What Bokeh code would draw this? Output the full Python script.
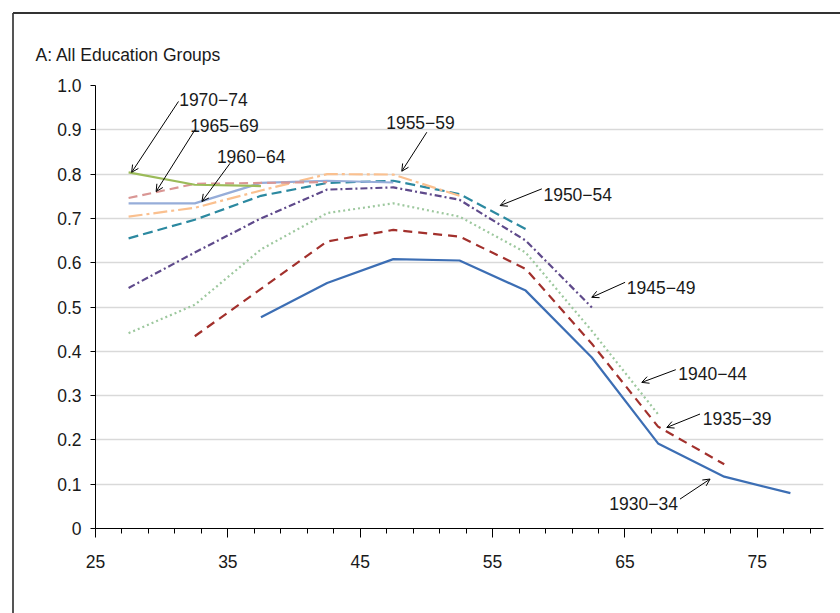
from bokeh.plotting import figure
from bokeh.models import (FixedTicker, CustomJSTickFormatter, Label, Arrow, OpenHead, Range1d,
                          InlineStyleSheet)
from bokeh.embed import file_html
from bokeh.resources import INLINE

nan = float("nan")

# ---- data ----
ages = [27.5, 32.5, 37.5, 42.5, 47.5, 52.5, 57.5, 62.5, 67.5, 72.5, 77.5]

c1930_34 = [nan, nan, 0.477, 0.554, 0.608, 0.605, 0.537, 0.386, 0.192, 0.117, 0.080]
c1935_39 = [nan, 0.434, 0.541, 0.648, 0.674, 0.659, 0.586, 0.417, 0.230, 0.145, nan]
c1940_44 = [0.441, 0.505, 0.630, 0.712, 0.734, 0.704, 0.623, 0.446, 0.258, nan, nan]
c1945_49 = [0.543, 0.623, 0.700, 0.765, 0.770, 0.742, 0.650, 0.499, nan, nan, nan]
c1950_54 = [0.655, 0.697, 0.751, 0.780, 0.785, 0.755, 0.676, nan, nan, nan, nan]
c1955_59 = [0.704, 0.724, 0.763, 0.800, 0.799, 0.751, nan, nan, nan, nan, nan]
c1960_64 = [0.734, 0.734, 0.780, 0.785, 0.781, nan, nan, nan, nan, nan, nan]
c1965_69 = [0.746, 0.778, 0.780, 0.782, nan, nan, nan, nan, nan, nan, nan]
c1970_74 = [0.804, 0.776, 0.773, nan, nan, nan, nan, nan, nan, nan, nan]

cohort_labels = ["1930\u221234", "1935\u221239", "1940\u221244", "1945\u221249", "1950\u221254",
                 "1955\u221259", "1960\u221264", "1965\u221269", "1970\u221274"]
series = [c1930_34, c1935_39, c1940_44, c1945_49, c1950_54, c1955_59, c1960_64, c1965_69, c1970_74]

x_ticks = [25, 35, 45, 55, 65, 75]
x_minor = [27, 29, 31, 33, 37, 39, 41, 43, 47, 49, 51, 53, 57, 59, 61, 63, 67, 69, 71, 73, 77, 79]
y_ticks = [0, 0.1, 0.2, 0.3, 0.4, 0.5, 0.6, 0.7, 0.8, 0.9, 1.0]

# ---- styles ----
styles = [
    dict(color="#3C6EB4", dash="solid"),
    dict(color="#A2302C", dash="9 6"),
    dict(color="#9DC89E", dash="2 3"),
    dict(color="#5F4A8B", dash="7 3 2 3"),
    dict(color="#2C89A0", dash="10 5"),
    dict(color="#FAC08F", dash="14 4 3 4"),
    dict(color="#96ADD9", dash="solid"),
    dict(color="#D99694", dash="9 5"),
    dict(color="#9BBB59", dash="solid"),
]

# annotation placement: (text x, text y, arrow start x, y, arrow end x, y)
annot = [
    (63.82, 0.0565, 69.16, 0.0664, 71.43, 0.1116),
    (70.88, 0.2494, 70.67, 0.2584, 68.16, 0.2281),
    (69.03, 0.3501, 68.84, 0.3585, 66.27, 0.3298),
    (65.14, 0.5444, 65.01, 0.5557, 62.49, 0.5218),
    (58.84, 0.7531, 58.72, 0.7667, 55.57, 0.7290),
    (46.96, 0.9170, 50.03, 0.8945, 48.14, 0.8064),
    (34.17, 0.8396, 35.17, 0.8245, 33.04, 0.7380),
    (32.15, 0.9097, 32.53, 0.9006, 29.58, 0.7606),
    (31.32, 0.9695, 31.27, 0.9640, 27.73, 0.8040),
]

FONT = "Liberation Sans"

frame_sheet = InlineStyleSheet(css=(
    ":host { background: "
    "linear-gradient(#333333, #333333) 13px 12px / 100% 2px no-repeat, "
    "linear-gradient(#555555, #555555) 12px 13px / 2px 100% no-repeat, white; }"))

p = figure(width=840, height=613, output_backend="svg", toolbar_location=None,
           x_range=Range1d(25, 80), y_range=Range1d(0, 1.0),
           min_border_left=95, min_border_right=17, min_border_top=85, min_border_bottom=85,
           stylesheets=[frame_sheet])
p.outline_line_color = None
p.background_fill_color = "white"
p.border_fill_color = None

p.title.text = "A: All Education Groups"
p.title.align = "left"
p.title.offset = -60
p.title.standoff = 42
p.title.text_font = FONT
p.title.text_font_size = "17.5px"
p.title.text_font_style = "normal"
p.title.text_color = "#1a1a1a"

p.xgrid.visible = False
p.ygrid.grid_line_color = "#D9D9D9"
p.ygrid.grid_line_width = 1.5
p.ygrid.ticker = FixedTicker(ticks=y_ticks)

p.xaxis.ticker = FixedTicker(ticks=x_ticks, minor_ticks=x_minor)
p.xaxis.major_tick_in = 0
p.xaxis.major_tick_out = 9
p.xaxis.minor_tick_in = 0
p.xaxis.minor_tick_out = 5
p.xaxis.major_label_standoff = 17

p.yaxis.ticker = FixedTicker(ticks=y_ticks)
p.yaxis.formatter = CustomJSTickFormatter(code="return tick == 0 ? '0' : tick.toFixed(1);")
p.yaxis.major_tick_in = 0
p.yaxis.major_tick_out = 5
p.yaxis.major_label_standoff = 9

for ax in (p.xaxis, p.yaxis):
    ax.axis_line_color = "black"
    ax.major_tick_line_color = "black"
    ax.major_label_text_font = FONT
    ax.major_label_text_font_size = "17.5px"
    ax.major_label_text_color = "#1a1a1a"
p.xaxis.minor_tick_line_color = "black"
p.yaxis.minor_tick_line_color = None

for vals, st in zip(series, styles):
    p.line(ages, vals, line_color=st["color"], line_width=2.2, line_dash=st["dash"])

for lab, (tx, ty, xs, ys, xe, ye) in zip(cohort_labels, annot):
    p.add_layout(Arrow(x_start=xs, y_start=ys, x_end=xe, y_end=ye, line_width=1,
                       line_color="black",
                       end=OpenHead(size=7, line_width=1, line_color="black")))
    p.add_layout(Label(x=tx, y=ty, text=lab, text_font=FONT, text_font_size="17.5px",
                       text_baseline="middle", text_align="left", text_color="#1a1a1a"))

open("out.html", "w").write(file_html(p, INLINE))
